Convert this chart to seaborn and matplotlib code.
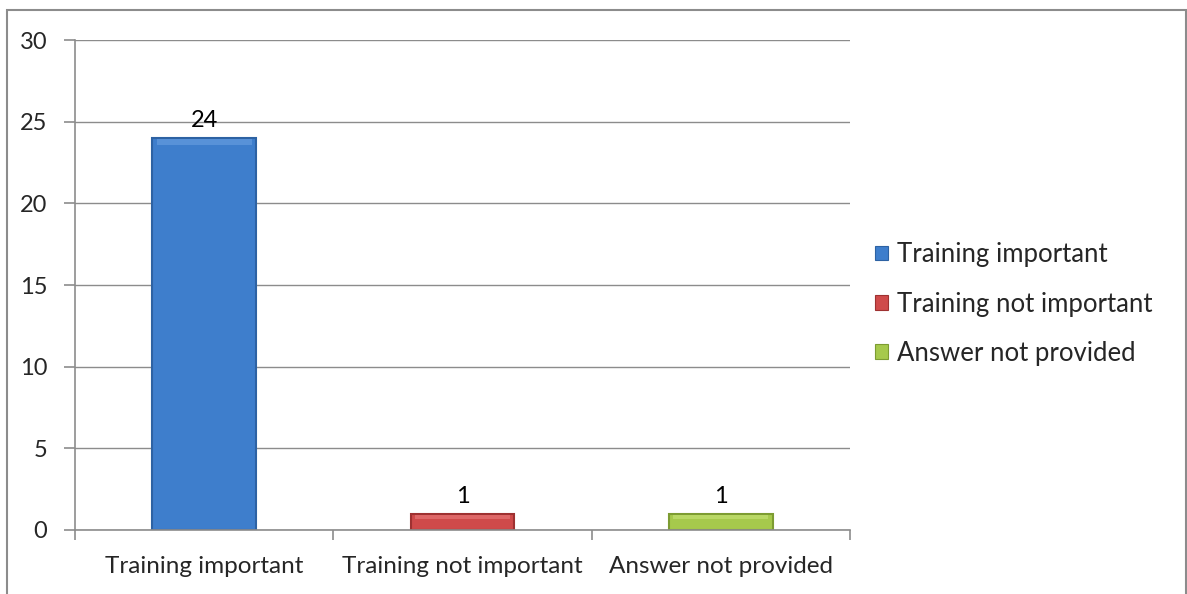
import matplotlib
matplotlib.use("Agg")
import matplotlib.pyplot as plt
from matplotlib.patches import Rectangle, Patch
import seaborn as sns
import pandas as pd

categories = ["Training important", "Training not important", "Answer not provided"]
counts = [24, 1, 1]
colors = ["#3E7ECC", "#CF4A4A", "#A6C94C"]
edge_colors = ["#2D62A3", "#9E3131", "#7D9C32"]
top_colors = ["#6FA3E3", "#EC7F7F", "#C9E67A"]

sns.set_style("white")
plt.rcParams["font.family"] = ["Lato", "DejaVu Sans"]

fig = plt.figure(figsize=(11.87, 5.94), dpi=100)
ax = fig.add_axes([75 / 1187, 1 - 530 / 594, 775 / 1187, 490 / 594])

df = pd.DataFrame({"category": categories, "count": counts})
sns.barplot(data=df, x="category", y="count", hue="category", palette=colors,
            width=0.4, ax=ax, legend=False, saturation=1)

# bevelled look: darker outline and a lighter band along the top of each bar
for bar, ec, tc in zip(ax.patches, edge_colors, top_colors):
    bar.set_edgecolor(ec)
    bar.set_linewidth(1.5)
    x0, w, h = bar.get_x(), bar.get_width(), bar.get_height()
    band = min(0.45, h * 0.3)
    ax.add_patch(Rectangle((x0 + w * 0.04, h - band), w * 0.92, band * 0.8,
                           facecolor=tc, edgecolor="none", alpha=0.55, zorder=bar.get_zorder() + 0.1))

for i, v in enumerate(counts):
    ax.text(i, v + 0.4, str(v), ha="center", va="bottom", fontsize=17, color="black")

ax.set_ylim(0, 30)
ax.set_xlim(-0.5, 2.5)
ax.set_yticks(range(0, 31, 5))
ax.set_xlabel("")
ax.set_ylabel("")
ax.yaxis.grid(True, color="#8C8C8C", linewidth=1)
ax.set_axisbelow(True)
for s in ["top", "right"]:
    ax.spines[s].set_visible(False)
for s in ["left", "bottom"]:
    ax.spines[s].set_color("#8C8C8C")
    ax.spines[s].set_linewidth(1.2)

# x ticks sit at the category boundaries; labels at category centers
ax.set_xticks([-0.5, 0.5, 1.5, 2.5])
ax.set_xticklabels([])
ax.set_xticks([0, 1, 2], minor=True)
ax.set_xticklabels(categories, minor=True, fontsize=17.5)
ax.tick_params(axis="x", which="major", direction="out", length=7, color="#8C8C8C", width=1.2, bottom=True)
ax.tick_params(axis="x", which="minor", length=0, pad=19)
ax.tick_params(axis="y", direction="out", length=8, color="#8C8C8C", width=1.2, labelsize=17, pad=12, left=True)

handles = [Patch(facecolor=c, edgecolor=e, linewidth=0.8) for c, e in zip(colors, edge_colors)]
fig.legend(handles, categories, loc="center left", bbox_to_anchor=(852 / 1187, 1 - 304 / 594),
           frameon=False, fontsize=18.5, handlelength=0.5, handleheight=0.5, handletextpad=0.35,
           labelspacing=0.95)

# outer chart frame
fig.patches.append(Rectangle((7 / 1187, -0.05), 1179 / 1187, 1.05 - 10 / 594,
                             transform=fig.transFigure, fill=False,
                             edgecolor="#8C8C8C", linewidth=1.5))

fig.savefig("out.png", dpi=100)
